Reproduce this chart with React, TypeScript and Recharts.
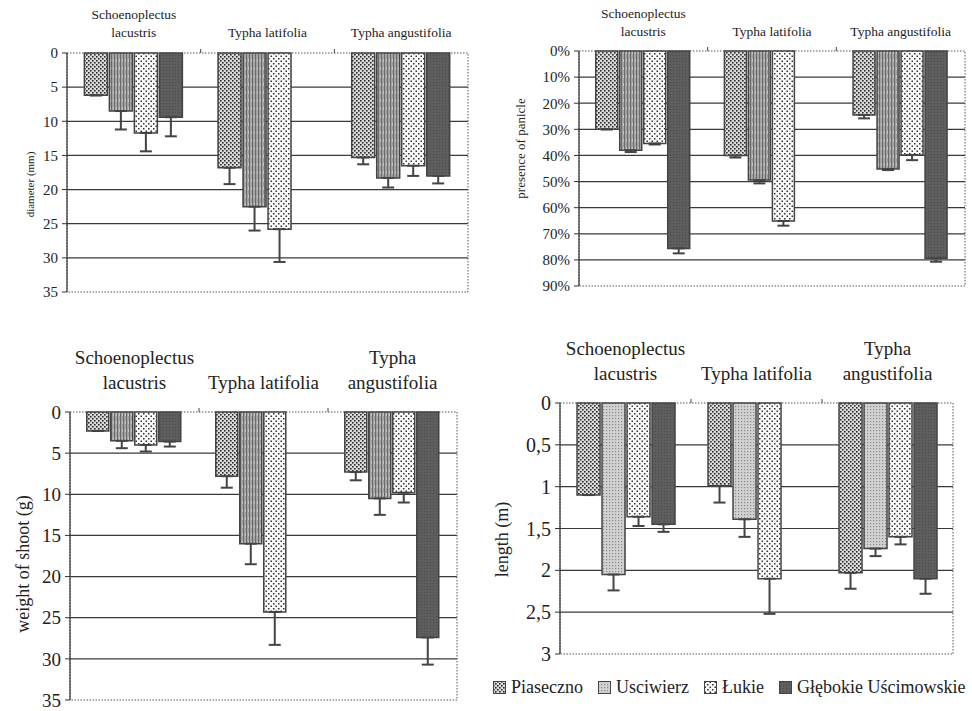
import React from 'react';
import { BarChart, Bar, XAxis, YAxis, CartesianGrid, ErrorBar, ReferenceArea, Legend } from 'recharts';

const FONT = '"Liberation Serif", "DejaVu Serif", "Times New Roman", serif';

const categories = ['Schoenoplectus lacustris', 'Typha latifolia', 'Typha angustifolia'];
const sites = ['Piaseczno', 'Usciwierz', 'Łukie', 'Głębokie Uścimowskie'];

// rows = species, columns = sites; null = not present
const diameterMean = [[6.2, 8.5, 11.7, 9.4], [16.8, 22.5, 25.8, null], [15.3, 18.3, 16.5, 18.0]];
const diameterSd = [[0, 2.7, 2.7, 2.8], [2.4, 3.5, 4.8, null], [1.0, 1.4, 1.5, 1.1]];
const diameterTicks = [0, 5, 10, 15, 20, 25, 30, 35];

const panicleMean = [[30, 38, 35.4, 75.6], [40, 49.4, 65.1, null], [24.5, 45.2, 39.8, 79.4]];
const panicleSd = [[0, 0.7, 0.4, 1.9], [0.8, 1.3, 1.8, null], [1.3, 0.4, 2.0, 1.3]];
const panicleTicks = [0, 10, 20, 30, 40, 50, 60, 70, 80, 90];

const weightMean = [[2.3, 3.5, 4.0, 3.6], [7.8, 16.0, 24.3, null], [7.3, 10.5, 9.8, 27.4]];
const weightSd = [[0, 0.9, 0.8, 0.6], [1.4, 2.5, 4.0, null], [1.0, 2.0, 1.2, 3.3]];
const weightTicks = [0, 5, 10, 15, 20, 25, 30, 35];

const lengthMean = [[1.1, 2.05, 1.36, 1.45], [0.99, 1.39, 2.1, null], [2.03, 1.74, 1.6, 2.1]];
const lengthSd = [[0, 0.19, 0.11, 0.09], [0.2, 0.21, 0.42, null], [0.19, 0.09, 0.09, 0.18]];
const lengthTicks = [0, 0.5, 1, 1.5, 2, 2.5, 3];

const FILLS = ['url(#pPia)', 'url(#pUsc)', 'url(#pLuk)', 'url(#pGle)'];
const FILLS_LIGHT = ['url(#pPia)', 'url(#pUscL)', 'url(#pLuk)', 'url(#pGle)'];

function buildRows(mean: (number | null)[][], sd: (number | null)[][]) {
  return categories.map((name, i) => {
    const row: any = { name };
    sites.forEach((_, j) => {
      row['v' + j] = mean[i][j];
      row['e' + j] = sd[i][j] == null ? null : [0, sd[i][j]];
    });
    return row;
  });
}

function wrapLabel(text: string, maxChars: number) {
  const out: string[] = [];
  let cur = '';
  text.split(' ').forEach((w) => {
    if (!cur) cur = w;
    else if ((cur + ' ' + w).length <= maxChars) cur += ' ' + w;
    else { out.push(cur); cur = w; }
  });
  if (cur) out.push(cur);
  return out;
}

function CatTick(props: any) {
  const { x, y, payload, cfg, index } = props;
  const lines = wrapLabel(String(payload.value), cfg.maxChars);
  const half = payload.offset || 0;
  const i = payload.index ?? index;
  return (
    <g>
      {lines.map((ln, k) => (
        <text key={k} x={x} y={y - cfg.catBase - (lines.length - 1 - k) * cfg.catLine}
          textAnchor="middle" fontSize={cfg.catSize} style={{ fontFamily: FONT }} fill="#222">{ln}</text>
      ))}
      {i < categories.length - 1 && half > 0 && (
        <line x1={x + half} x2={x + half} y1={y} y2={y - 4} stroke="#444" />
      )}
    </g>
  );
}

function Panel({ cfg, rows, ticks, yLabel, fmt, fills, legend }: any) {
  const max = ticks[ticks.length - 1];
  const inner = ticks.slice(1, -1);
  return (
    <div style={{ position: 'absolute', left: cfg.left, top: cfg.top, fontFamily: FONT }}>
      <BarChart width={cfg.width} height={cfg.height} data={rows}
        margin={{ top: 0, right: cfg.mr, bottom: cfg.mb, left: 0 }}
        barCategoryGap="13%" barGap={2} style={{ fontFamily: FONT }}>
        <CartesianGrid vertical={false} horizontalValues={inner} stroke="#3a3a3a" strokeWidth={1.2} />
        <XAxis dataKey="name" orientation="top" height={cfg.xh} axisLine={false} tickLine={false}
          tickSize={0} tickMargin={0} interval={0} tick={(p: any) => <CatTick {...p} cfg={cfg} />} />
        <YAxis reversed domain={[0, max]} ticks={ticks} interval={0} width={cfg.yw}
          axisLine={{ stroke: '#333', strokeWidth: 1.2 }} tickLine={{ stroke: '#333' }} tickSize={5} tickMargin={4}
          tick={{ fontSize: cfg.tickSize, fill: '#222', style: { fontFamily: FONT } }} tickFormatter={fmt}
          label={{
            value: yLabel,
            content: (p: any) => {
              const vb = p.viewBox || {};
              const cx = (vb.x || 0) + cfg.labelX;
              const cy = (vb.y || 0) + (vb.height || 0) / 2 + cfg.labelDy;
              return (
                <text x={cx} y={cy} transform={`rotate(-90, ${cx}, ${cy})`} textAnchor="middle"
                  dominantBaseline="central" fontSize={cfg.labelSize} style={{ fontFamily: FONT }} fill="#222">{yLabel}</text>
              );
            },
          }} />
        <ReferenceArea y1={0} y2={max} fill="none" stroke="#555" strokeDasharray="1.5 1.5" ifOverflow="visible" />
        {sites.map((s, j) => (
          <Bar key={s} dataKey={'v' + j} name={s} fill={fills[j]} stroke="#444" strokeWidth={1.5} isAnimationActive={false}>
            <ErrorBar dataKey={'e' + j} width={6} stroke="#444" strokeWidth={2} direction="y" isAnimationActive={false} />
          </Bar>
        ))}
        {legend && (
          <Legend verticalAlign="middle" align="center" layout="horizontal"
            wrapperStyle={{ left: 7, top: 352, width: 480, bottom: 'auto' }}
            content={(lp: any) => {
              const items = [...(lp.payload || [])].sort((a: any, b: any) => sites.indexOf(a.value) - sites.indexOf(b.value));
              return (
                <div style={{ display: 'flex', gap: 15, alignItems: 'center', fontFamily: FONT, fontSize: 18, color: '#222', whiteSpace: 'nowrap' }}>
                  {items.map((it: any) => (
                    <span key={it.value} style={{ display: 'flex', alignItems: 'center' }}>
                      <svg width={13} height={13}>
                        <rect x={0.5} y={0.5} width={12} height={12} fill={it.color || it.payload?.fill} stroke="#444" />
                      </svg>
                      <span style={{ marginLeft: 5 }}>{it.value}</span>
                    </span>
                  ))}
                </div>
              );
            }} />
        )}
      </BarChart>
    </div>
  );
}

const P1 = { left: 0, top: 0, width: 480, height: 300, yw: 67, xh: 53, mr: 12, mb: 8, catSize: 13.5, catBase: 16, catLine: 18, maxChars: 18, tickSize: 15, labelSize: 11, labelX: 30, labelDy: 12 };
const P2 = { left: 486, top: 0, width: 486, height: 300, yw: 93, xh: 51, mr: 7, mb: 14, catSize: 13.5, catBase: 15.5, catLine: 18, maxChars: 18, tickSize: 15, labelSize: 13, labelX: 34, labelDy: -20 };
const P3 = { left: 0, top: 330, width: 480, height: 381, yw: 70, xh: 82, mr: 23, mb: 11, catSize: 19, catBase: 23, catLine: 25, maxChars: 15, tickSize: 19, labelSize: 18, labelX: 23, labelDy: 8 };
const P4 = { left: 486, top: 325, width: 486, height: 386, yw: 74, xh: 78, mr: 19, mb: 57, catSize: 19, catBase: 23.5, catLine: 25, maxChars: 15, tickSize: 20, labelSize: 18, labelX: 16, labelDy: 11 };

const decimalComma = (v: number) => String(v).replace('.', ',');
const percent = (v: number) => `${v}%`;

export default function App() {
  return (
    <div style={{ position: 'absolute', left: 0, top: 0, width: 972, height: 711, background: '#fff', overflow: 'hidden', fontFamily: FONT }}>
      <svg width={0} height={0} style={{ position: 'absolute' }}>
        <defs>
          <pattern id="pPia" width={4} height={4} patternUnits="userSpaceOnUse">
            <rect width={4} height={4} fill="#dcdcdc" />
            <rect x={0} y={0} width={1.6} height={1.6} fill="#2a2a2a" />
            <rect x={2} y={2} width={1.6} height={1.6} fill="#2a2a2a" />
          </pattern>
          <pattern id="pUsc" width={3} height={8} patternUnits="userSpaceOnUse">
            <rect width={3} height={8} fill="#a3a3a3" />
            <rect x={0} y={0} width={1} height={8} fill="#6a6a6a" />
            <rect x={2} y={3} width={1} height={3} fill="#c4c4c4" />
          </pattern>
          <pattern id="pUscL" width={3} height={3} patternUnits="userSpaceOnUse">
            <rect width={3} height={3} fill="#d2d2d2" />
            <rect x={0} y={0} width={1.2} height={1.2} fill="#8a8a8a" />
          </pattern>
          <pattern id="pLuk" width={5} height={5} patternUnits="userSpaceOnUse">
            <rect width={5} height={5} fill="#fafafa" />
            <rect x={0.5} y={0.5} width={1.5} height={1.5} fill="#333" />
            <rect x={3} y={3} width={1.5} height={1.5} fill="#333" />
          </pattern>
          <pattern id="pGle" width={3} height={3} patternUnits="userSpaceOnUse">
            <rect width={3} height={3} fill="#5e5e5e" />
            <rect x={1} y={1} width={1} height={1} fill="#4a4a4a" />
          </pattern>
        </defs>
      </svg>
      <Panel cfg={P1} rows={buildRows(diameterMean, diameterSd)} ticks={diameterTicks} yLabel="diameter (mm)" fills={FILLS} />
      <Panel cfg={P2} rows={buildRows(panicleMean, panicleSd)} ticks={panicleTicks} yLabel="presence of panicle" fmt={percent} fills={FILLS} />
      <Panel cfg={P3} rows={buildRows(weightMean, weightSd)} ticks={weightTicks} yLabel="weight of shoot (g)" fills={FILLS} />
      <Panel cfg={P4} rows={buildRows(lengthMean, lengthSd)} ticks={lengthTicks} yLabel="length (m)" fmt={decimalComma} fills={FILLS_LIGHT} legend />
    </div>
  );
}
